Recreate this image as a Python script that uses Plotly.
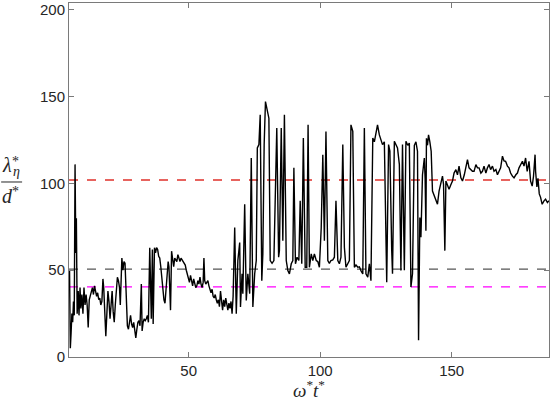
import plotly.graph_objects as go

# ---- data ----
t_vals = [4.7,5.0,5.3,5.6,5.9,6.2,6.5,6.8,7.1,7.3,7.6,8.0,8.3,8.7,9.0,9.4,9.8,10.2,10.6,11.0,11.4,11.8,12.2,12.6,13.0,13.4,13.8,14.2,14.6,15.0,
          15.4,15.8,16.2,16.6,17.0,17.4,17.7,18.0,18.5,18.9,19.3,19.7,20.1,20.5,20.9,21.3,21.7,22.1,22.5,22.9,23.3,23.7,24.0,24.3,24.6,25.0,25.4,25.8,26.1,26.4,
          26.7,27.1,27.5,27.9,28.3,28.7,29.1,29.5,29.9,30.3,30.7,31.1,31.5,32.0,32.3,32.7,33.1,33.5,33.9,34.3,34.7,35.2,35.5,35.8,36.2,36.5,37.0,37.4,37.8,38.2,
          38.6,39.0,39.4,39.8,40.2,40.6,41.0,41.4,41.8,42.2,42.5,42.8,43.1,43.5,43.9,44.3,44.7,45.1,45.5,45.9,46.3,46.7,47.1,47.5,47.9,48.3,48.7,49.1,49.5,49.9,
          50.3,50.7,51.1,51.5,51.9,52.3,52.7,53.1,53.5,53.9,54.3,54.7,55.1,55.5,55.8,56.1,56.5,56.9,57.3,57.7,58.1,58.5,58.9,59.3,59.7,60.1,60.5,60.9,61.3,61.7,
          62.1,62.5,62.9,63.3,63.7,64.1,64.5,64.9,65.3,65.7,66.1,66.5,66.9,
          67.5,68.1,68.7,69.4,69.7,70.3,70.6,71.3,71.9,72.5,73.2,73.8,74.4,75.1,75.7,76.1,76.7,77.2,77.8,78.2,78.7,79.2,79.9,80.5,81.0,81.7,82.4,83.0,83.5,84.2,
          84.5,85.2,85.8,86.4,87.1,87.7,88.3,89.0,89.6,90.0,90.6,91.2,91.9,92.4,93.0,93.6,94.3,94.9,95.4,95.9,96.6,97.2,97.8,98.5,99.1,99.7,100.4,101.0,101.6,102.2,
          102.9,103.5,104.1,104.8,105.4,106.0,106.7,107.3,107.9,108.6,109.2,109.8,110.4,111.1,111.7,112.4,113.0,113.6,114.3,114.9,115.5,116.2,116.8,117.4,118.1,118.7,119.3,120.0,120.6,121.2,
          121.8,122.5,123.1,123.7,124.4,125.3,126.0,126.5,127.2,127.5,128.2,128.8,129.4,130.1,130.7,131.3,132.0,132.6,133.3,133.9,134.5,135.1,135.8,136.4,137.0,137.4,137.9,138.3,138.9,139.6,
          139.9,140.2,140.4,140.8,141.2,141.7,142.2,142.7,143.3,144.0,144.6,145.2,145.9,146.5,146.9,147.4,147.8,148.4,149.0,149.6,150.3,150.9,151.6,152.2,152.8,153.5,154.1,154.8,155.4,156.0,
          156.6,157.3,157.9,158.5,159.2,159.8,160.4,161.1,161.7,162.3,163.0,163.6,164.2,164.8,165.5,166.1,166.8,167.4,168.0,168.6,169.3,169.9,170.5,171.2,171.8,172.4,173.1,173.7,174.4,175.0,
          175.6,176.2,176.9,177.5,178.1,178.7,179.4,180.0,180.6,181.1,181.7,181.9,182.4,182.8,183.3,183.8,184.4,185.1,185.7,186.4,187.0]
lam_vals = [50,5,14,25,20,32,24,111,60,80,25,38,24,40,28,36,25,40,30,36,30,17,33,36,38,40,36,41,38,35,
            37,33,34,30,32,45,40,30,12,25,38,32,22,30,38,26,20,30,40,46,44,40,30,48,57,50,55,54,40,28,
            18,16,22,24,19,17,20,14,11,16,20,21,18,42,15,20,22,21,22,24,20,63,45,22,62,19,63,60,63,62,
            58,57,52,45,36,33,31,38,48,55,52,40,27,61,54,52,57,56,55,59,57,55,57,56,55,54,53,50,48,46,
            43,47,44,41,45,43,40,41,44,42,46,42,40,43,57,44,42,43,44,41,38,37,39,35,34,36,33,31,33,29,
            38,31,27,33,29,34,31,27,31,28,32,25,35,
            74.6,25,55.6,66,28.8,47.9,36.5,88,32.6,48,36.5,114.7,28.8,48,55.6,120.5,122.4,139.6,44,59.4,122.4,147.2,141.5,137.6,55.6,54,55.6,93.7,131.9,57.5,
            61.3,131.9,67,139.6,55.6,49.8,47.9,53.7,55.6,109,53.7,57.5,55.6,90,53.7,126.2,51.7,51.7,133.8,51.7,59.4,55.6,59.4,55.6,55,51.7,74.6,116.6,67,130,
            55.6,54,55.6,56,57.5,90,55.6,53.7,57.5,122.4,63.2,51.7,54,55.6,133.8,130,51.7,53,51.7,52,49.8,47.9,131.9,47.9,46,53.7,44,126.2,124,130,
            133.8,128,125,122.4,124,43.1,122.4,118.6,61.3,48,124.3,122,120.5,111,49.8,122.4,50,124.3,122,123.3,40.3,48,122,124,118.6,9.7,80.4,69,105,114.7,
            103,72.7,126,122,128,124,118.6,95.6,93,90,88,95.6,100.4,104.2,99.5,61.3,101.4,99,96.6,99,101.4,106,108,105,110,103.3,101.4,105,109,113.8,
            109,108,107,107,110.9,109,109,106,107,110,106,109,110.9,108,110,107,108,105,107,109,115.7,113,112.8,110,109,106,104.2,103.2,105,106,
            109,110.9,112.8,110,114.7,107,112.8,101.3,98.5,104,116.6,107,98,103,94,92,88,90,91,89,90]

ref_levels = [102.0, 50.6, 40.4]
ref_colors = ["#e0302a", "#555555", "#ff00ff"]

x_ticks = [50, 100, 150]
y_ticks = [0, 50, 100, 150, 200]

W, H = 551, 403
L, R, T, B = 69, 1, 1, 46
pw, ph = W - L - R, H - T - B

def px(x):
    return (x - L) / pw

def py(y):
    return (H - B - y) / ph

fig = go.Figure()
for lev, col in zip(ref_levels, ref_colors):
    fig.add_trace(go.Scatter(x=[4.5, 187], y=[lev, lev], mode="lines",
                             line=dict(color=col, width=1.3, dash="dash"),
                             hoverinfo="skip", showlegend=False))
fig.add_trace(go.Scatter(x=t_vals, y=lam_vals, mode="lines",
                         line=dict(color="black", width=1.4),
                         showlegend=False))

axis_common = dict(showgrid=False, zeroline=False, showline=True, linecolor="#7a7a7a",
                   linewidth=1, mirror="allticks", ticks="inside", ticklen=5,
                   tickcolor="#7a7a7a", ticklabeloverflow="allow",
                   tickfont=dict(family="Liberation Sans", size=15, color="#262626"))
fig.update_xaxes(range=[4.5, 187], tickvals=x_ticks, **axis_common)
fig.update_yaxes(range=[0, 204], tickvals=y_ticks, **axis_common)

serif = dict(family="Liberation Serif", color="#262626")
ann = [
    dict(text="<i>λ</i>", x=px(7), y=py(164), size=20),
    dict(text="*", x=px(15.5), y=py(160), size=14),
    dict(text="<i>η</i>", x=px(16.5), y=py(170), size=14),
    dict(text="<i>d</i>", x=px(7.5), y=py(195), size=20),
    dict(text="*", x=px(15), y=py(191), size=14),
    dict(text="<i>ω</i><sup>*</sup><i>t</i><sup>*</sup>", x=px(309), y=py(389), size=19),
]
for a in ann:
    fig.add_annotation(text=a["text"], x=a["x"], y=a["y"], xref="paper", yref="paper",
                       xanchor="center", yanchor="middle", showarrow=False,
                       font=dict(size=a["size"], **serif))
fig.add_shape(type="line", xref="paper", yref="paper", x0=px(1), x1=px(22),
              y0=py(181), y1=py(181), line=dict(color="#262626", width=1))

fig.update_layout(width=W, height=H, margin=dict(l=L, r=R, t=T, b=B),
                  plot_bgcolor="white", paper_bgcolor="white")
fig.write_html("out.html", config={"displayModeBar": False},
               post_script="document.body.style.margin='0';document.body.style.overflow='hidden';")
